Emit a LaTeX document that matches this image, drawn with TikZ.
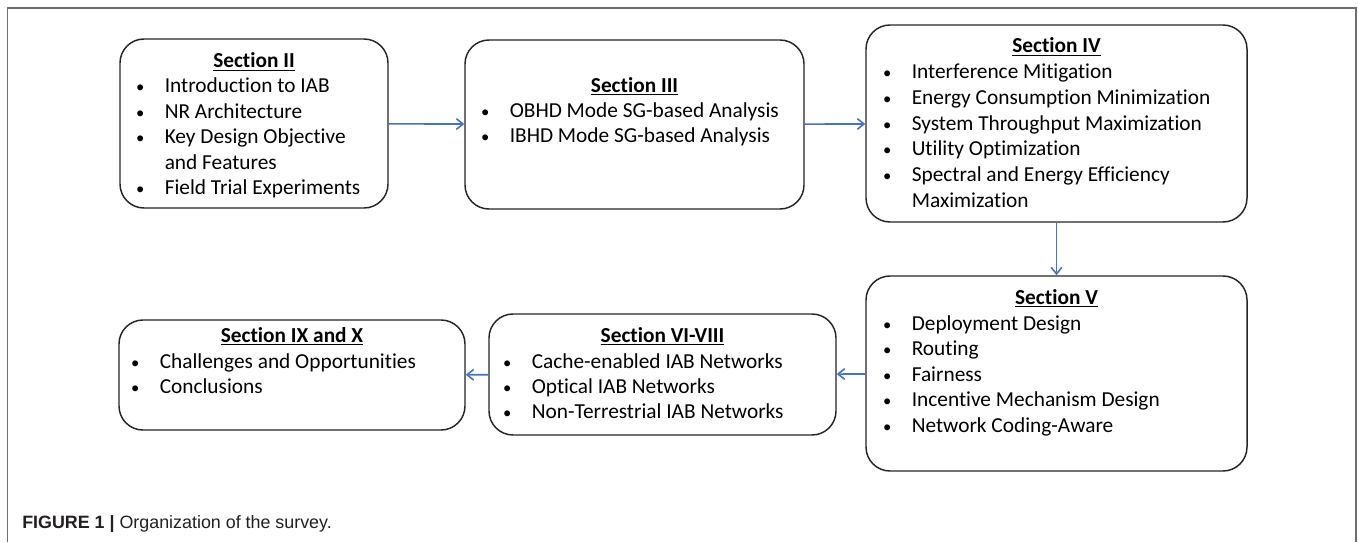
\documentclass[tikz,border=0pt]{standalone}
\usepackage{fontspec}
\setmainfont{Carlito}[Ligatures=NoCommon]
\newfontfamily\capfont{Liberation Sans}
\usetikzlibrary{arrows.meta,fit}
\definecolor{arrowblue}{HTML}{4472C4}
\definecolor{boxline}{HTML}{262626}
\definecolor{framegray}{HTML}{6E6E6E}
\definecolor{captext}{HTML}{231F20}
\newlength\pxu
\setlength\pxu{0.75pt}
\newcommand\bul{\makebox[0pt][c]{\scalebox{0.78}{•}}\hspace{24.5\pxu}}
\newcommand\cont{\hspace{24.5\pxu}}
\begin{document}
\begin{tikzpicture}[x=0.75pt,y=-0.75pt,
  secbox/.style={draw=boxline, line width=1.1pt, rounded corners=18pt, fill=white, inner sep=0pt},
  sectitle/.style={anchor=base, inner sep=0pt, font=\bfseries\fontsize{16}{19}\selectfont},
  itm/.style={anchor=base west, inner sep=0pt, font=\fontsize{16}{19}\selectfont},
  flow/.style={draw=arrowblue, line width=1.2pt, -{Straight Barb[length=5pt,width=8pt]}},
]
\useasboundingbox (0,0) rectangle (1358,542);
% outer frame
\draw[framegray, line width=1.1pt] (7.5,542) -- (7.5,8) -- (1356,8) -- (1356,542);

% boxes
\node[secbox, fit={(120,39) (388,208)}] (s2) {};
\node[secbox, fit={(465,40) (804,209)}] (s3) {};
\node[secbox, fit={(866,25) (1247,222)}] (s4) {};
\node[secbox, fit={(866,276) (1247,471)}] (s5) {};
\node[secbox, fit={(489,314) (836,435)}] (s6) {};
\node[secbox, fit={(119,320) (465,430)}] (s9) {};

% Section II
\node[sectitle] (t2) at (254,68) {\underline{Section II}};
\node[itm] (s2a) at (140,93) {\bul Introduction to IAB};
\node[itm] (s2b) at (140,118.4) {\bul NR Architecture};
\node[itm] (s2c) at (140,143.8) {\bul Key Design Objective};
\node[itm] (s2d) at (140,169.2) {\cont and Features};
\node[itm] (s2e) at (140,194.6) {\bul Field Trial Experiments};

% Section III
\node[sectitle] (t3) at (634.5,92) {\underline{Section III}};
\node[itm] (s3a) at (485,117.4) {\bul OBHD Mode SG-based Analysis};
\node[itm] (s3b) at (485,142.8) {\bul IBHD Mode SG-based Analysis};

% Section IV
\node[sectitle] (t4) at (1056.5,53) {\underline{Section IV}};
\node[itm] (s4a) at (887,79) {\bul Interference Mitigation};
\node[itm] (s4b) at (887,104.6) {\bul Energy Consumption Minimization};
\node[itm] (s4c) at (887,130.2) {\bul System Throughput Maximization};
\node[itm] (s4d) at (887,155.8) {\bul Utility Optimization};
\node[itm] (s4e) at (887,181.4) {\bul Spectral and Energy Efficiency};
\node[itm] (s4f) at (887,207) {\cont Maximization};

% Section V
\node[sectitle] (t5) at (1056.5,304) {\underline{Section V}};
\node[itm] (s5a) at (887,330) {\bul Deployment Design};
\node[itm] (s5b) at (887,355.6) {\bul Routing};
\node[itm] (s5c) at (887,381.2) {\bul Fairness};
\node[itm] (s5d) at (887,406.8) {\bul Incentive Mechanism Design};
\node[itm] (s5e) at (887,432.4) {\bul Network Coding-Aware};

% Section VI-VIII
\node[sectitle] (t6) at (662.5,342) {\underline{Section VI-VIII}};
\node[itm] (s6a) at (507,368) {\bul Cache-enabled IAB Networks};
\node[itm] (s6b) at (507,393.4) {\bul Optical IAB Networks};
\node[itm] (s6c) at (507,418.8) {\bul Non-Terrestrial IAB Networks};

% Section IX and X
\node[sectitle] (t9) at (292,342) {\underline{Section IX and X}};
\node[itm] (s9a) at (135,368) {\bul Challenges and Opportunities};
\node[itm] (s9b) at (135,393.4) {\bul Conclusions};

% connectors
\draw[flow] (s2) -- (s3);
\draw[flow] (s3) -- (s4);
\draw[flow] (s4) -- (s5);
\draw[flow] (s5) -- (s6);
\draw[flow] (s6) -- (s9);

% caption
\node[anchor=base west, inner sep=0pt, text=captext, font=\capfont\fontsize{13.4}{15}\selectfont] (cap) at (22,528) {\textbf{FIGURE 1 |} Organization of the survey.};
\end{tikzpicture}
\end{document}
